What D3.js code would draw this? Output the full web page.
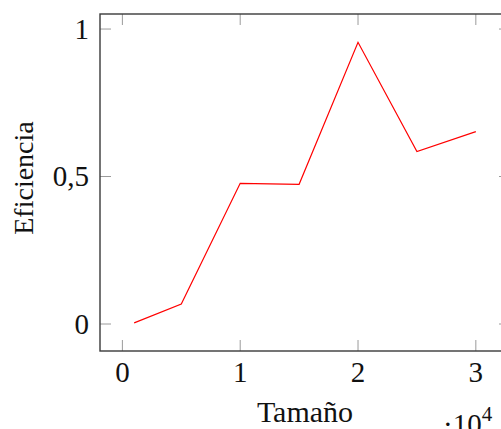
<!DOCTYPE html>
<html>
<head>
<meta charset="utf-8">
<script src="https://cdn.jsdelivr.net/npm/d3@7"></script>
<style>
  html, body { margin: 0; padding: 0; background: #fff; }
  svg { display: block; }
  text { font-family: "Liberation Serif", "DejaVu Serif", serif; fill: #111; }
</style>
</head>
<body>
<div id="chart"></div>
<script>
'use strict';

// values
const tamano = [1000, 5000, 10000, 15000, 20000, 25000, 30000];
const eficiencia = [0.004, 0.068, 0.477, 0.4735, 0.955, 0.585, 0.652];
const xTicks = [0, 10000, 20000, 30000];
const yTicks = [0, 0.5, 1];
const xTitle = 'Tamaño';
const yTitle = 'Eficiencia';

const width = 501, height = 429;
const box = { left: 100, right: 510, top: 14, bottom: 351 };

const svg = d3.select('#chart').append('svg')
    .attr('width', width)
    .attr('height', height);

// pgfplots-like enlarged limits
const x = d3.scaleLinear()
    .domain([-1900, 32900])
    .range([box.left, box.right]);

const y = d3.scaleLinear()
    .domain([-0.0915, 1.051])
    .range([box.bottom, box.top]);

const tickLen = 11;

// ticks inside the box, on all four sides
const ticks = svg.append('g').attr('class', 'ticks')
    .attr('stroke', '#9a9a9a')
    .attr('stroke-width', 1);

xTicks.forEach(t => {
  ticks.append('line')
      .attr('x1', x(t)).attr('x2', x(t))
      .attr('y1', box.bottom).attr('y2', box.bottom - tickLen);
  ticks.append('line')
      .attr('x1', x(t)).attr('x2', x(t))
      .attr('y1', box.top).attr('y2', box.top + tickLen);
});

yTicks.forEach(t => {
  ticks.append('line')
      .attr('x1', box.left).attr('x2', box.left + tickLen)
      .attr('y1', y(t)).attr('y2', y(t));
  ticks.append('line')
      .attr('x1', box.right).attr('x2', box.right - tickLen)
      .attr('y1', y(t)).attr('y2', y(t));
});

// data line
const line = d3.line()
    .x((d, i) => x(tamano[i]))
    .y(d => y(d));

svg.append('path')
    .datum(eficiencia)
    .attr('fill', 'none')
    .attr('stroke', '#ff0000')
    .attr('stroke-width', 1.2)
    .attr('stroke-linejoin', 'miter')
    .attr('d', line);

// frame
svg.append('rect')
    .attr('x', box.left)
    .attr('y', box.top)
    .attr('width', box.right - box.left)
    .attr('height', box.bottom - box.top)
    .attr('fill', 'none')
    .attr('stroke', '#3a3a3a')
    .attr('stroke-width', 1.4);

// tick labels
svg.append('g').selectAll('text')
    .data(xTicks)
  .enter().append('text')
    .attr('x', d => x(d))
    .attr('y', 382)
    .attr('text-anchor', 'middle')
    .style('font-size', '29px')
    .text(d => d / 1e4);

svg.append('g').selectAll('text')
    .data(yTicks)
  .enter().append('text')
    .attr('x', 89)
    .attr('y', d => y(d) + 9.5)
    .attr('text-anchor', 'end')
    .style('font-size', '29px')
    .text(d => String(d).replace('.', ','));

// axis titles
svg.append('text')
    .attr('x', (box.left + box.right) / 2)
    .attr('y', 421.5)
    .attr('text-anchor', 'middle')
    .style('font-size', '30px')
    .text(xTitle);

svg.append('text')
    .attr('transform', 'translate(33, 178) rotate(-90)')
    .attr('text-anchor', 'middle')
    .style('font-size', '28px')
    .text(yTitle);

// scale factor ·10^4
const mult = svg.append('text')
    .attr('x', 443)
    .attr('y', 434)
    .style('font-size', '29px');
mult.append('tspan').text('·10');
mult.append('tspan')
    .attr('dy', -13)
    .style('font-size', '21px')
    .text('4');
</script>
</body>
</html>
